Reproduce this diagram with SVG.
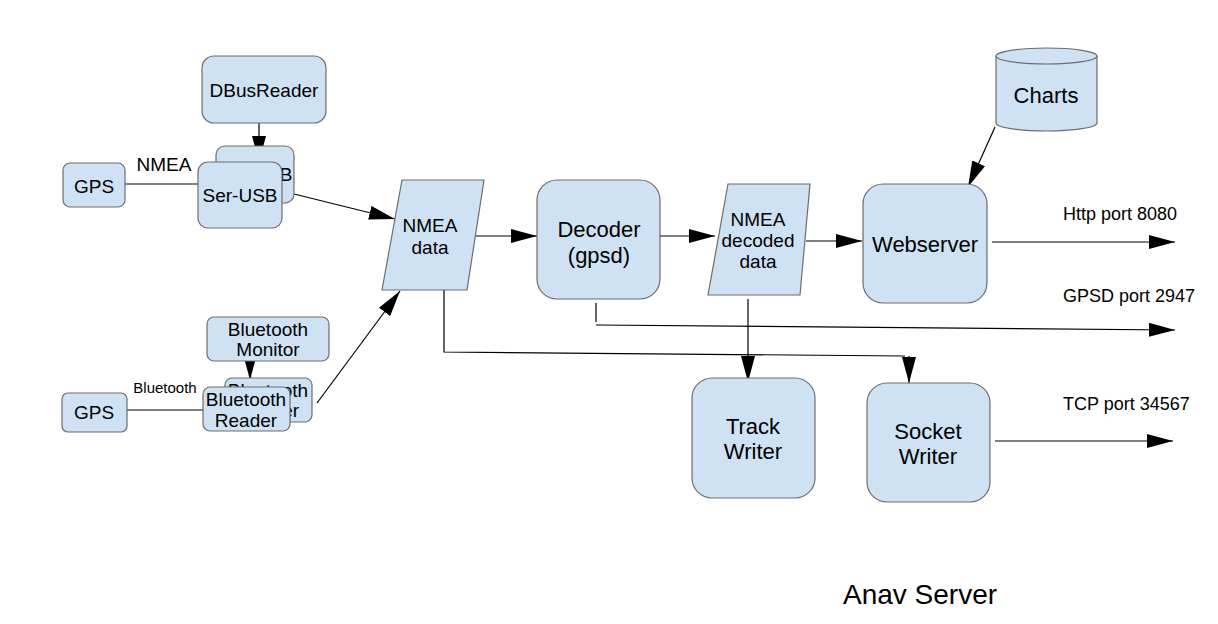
<svg xmlns="http://www.w3.org/2000/svg" width="1218" height="624" viewBox="0 0 1218 624">
<defs>
<marker id="ahl" viewBox="0 0 10 10" refX="10" refY="5" markerWidth="26" markerHeight="14" markerUnits="userSpaceOnUse" orient="auto" preserveAspectRatio="none">
<path d="M0,0 L10,5 L0,10 z" fill="#000"/>
</marker>
<style>
.n{fill:#cfe2f3;stroke:#6d6d6d;stroke-width:1.2}
.t{font-family:"Liberation Sans",Arial,sans-serif;fill:#000;text-anchor:middle}
.s16{font-size:19px}
.s19{font-size:22px}
.s14{font-size:18px;text-anchor:start}
.c{fill:none;stroke:#000;stroke-width:1.2}
</style>
</defs>
<rect width="1218" height="624" fill="#fff"/>
<g id="connectors">
<line class="c" x1="125" y1="184" x2="198" y2="184"/>
<line class="c" x1="259" y1="123" x2="259" y2="162" marker-end="url(#ahl)"/>
<line class="c" x1="294" y1="194" x2="395" y2="219" marker-end="url(#ahl)"/>
<line class="c" x1="127" y1="410" x2="203" y2="410"/>
<line class="c" x1="250" y1="361" x2="250" y2="380" marker-end="url(#ahl)"/>
<line class="c" x1="317" y1="403" x2="400" y2="291" marker-end="url(#ahl)"/>
<line class="c" x1="476" y1="236" x2="537" y2="236" marker-end="url(#ahl)"/>
<line class="c" x1="660" y1="236" x2="715" y2="236" marker-end="url(#ahl)"/>
<line class="c" x1="806" y1="241" x2="862" y2="241" marker-end="url(#ahl)"/>
<line class="c" x1="995" y1="127" x2="968" y2="187" marker-end="url(#ahl)"/>
<line class="c" x1="992" y1="242" x2="1175" y2="242" marker-end="url(#ahl)"/>
<polyline class="c" points="596,303 596,322"/>
<line class="c" x1="596" y1="325" x2="1175" y2="330" marker-end="url(#ahl)"/>
<polyline class="c" points="444,290 444,352 905,356"/>
<line class="c" x1="909" y1="356" x2="909" y2="383" marker-end="url(#ahl)"/>
<line class="c" x1="748" y1="299" x2="748" y2="382" marker-end="url(#ahl)"/>
<line class="c" x1="995" y1="441" x2="1173" y2="441" marker-end="url(#ahl)"/>
</g>
<g id="dbusreader">
<rect class="n" x="202" y="56" width="124" height="67" rx="12"/>
<text class="t s16" x="264" y="97">DBusReader</text>
</g>
<g id="gps1">
<rect class="n" x="63" y="163" width="62" height="44" rx="7"/>
<text class="t s16" x="94" y="193">GPS</text>
</g>
<text class="t s16" x="164" y="171">NMEA</text>
<g id="serusb-back">
<rect class="n" x="216" y="146" width="78" height="57" rx="9"/>
<text class="t s16" x="255" y="181">Ser-USB</text>
</g>
<g id="serusb">
<rect class="n" x="198" y="162" width="84" height="66" rx="10"/>
<text class="t s16" x="240" y="202">Ser-USB</text>
</g>
<g id="btmonitor">
<rect class="n" x="207" y="317" width="122" height="44" rx="7"/>
<text class="t s16" x="268" y="336">Bluetooth</text>
<text class="t s16" x="268" y="356">Monitor</text>
</g>
<g id="gps2">
<rect class="n" x="62" y="393" width="65" height="39" rx="6"/>
<text class="t s16" x="94" y="419">GPS</text>
</g>
<text class="t" style="font-size:15px" x="165" y="393">Bluetooth</text>
<g id="btreader-back">
<rect class="n" x="225" y="378" width="87" height="44" rx="7"/>
<text class="t s16" x="268" y="397">Bluetooth</text>
<text class="t s16" x="268" y="417">Reader</text>
</g>
<g id="btreader">
<rect class="n" x="203" y="387" width="87" height="44" rx="7"/>
<text class="t s16" x="246" y="406">Bluetooth</text>
<text class="t s16" x="246" y="427">Reader</text>
</g>
<g id="nmeadata">
<polygon class="n" points="402,180 484,180 467,290 382,290"/>
<text class="t s16" x="430" y="232">NMEA</text>
<text class="t s16" x="430" y="254">data</text>
</g>
<g id="decoder">
<rect class="n" x="537" y="180" width="123" height="119" rx="20"/>
<text class="t s19" x="599" y="237">Decoder</text>
<text class="t s19" x="599" y="263">(gpsd)</text>
</g>
<g id="nmeadecoded">
<polygon class="n" points="728,184 810,184 800,295 708,295"/>
<text class="t s16" x="758" y="226">NMEA</text>
<text class="t s16" x="758" y="247">decoded</text>
<text class="t s16" x="758" y="268">data</text>
</g>
<g id="webserver">
<rect class="n" x="863" y="184" width="124" height="119" rx="20"/>
<text class="t s19" x="925" y="252">Webserver</text>
</g>
<g id="charts">
<path class="n" d="M996,56 L996,123 A50.5,8 0 0 0 1097,123 L1097,56 A50.5,8 0 0 0 996,56 Z"/>
<path class="n" fill="none" d="M996,56 A50.5,8 0 0 0 1097,56"/>
<text class="t s19" x="1046" y="103">Charts</text>
</g>
<g id="trackwriter">
<rect class="n" x="692" y="378" width="123" height="120" rx="20"/>
<text class="t s19" x="753" y="434">Track</text>
<text class="t s19" x="753" y="459">Writer</text>
</g>
<g id="socketwriter">
<rect class="n" x="867" y="383" width="123" height="119" rx="20"/>
<text class="t s19" x="928" y="439">Socket</text>
<text class="t s19" x="928" y="464">Writer</text>
</g>
<text class="t s14" x="1063" y="220">Http port 8080</text>
<text class="t s14" x="1063" y="302">GPSD port 2947</text>
<text class="t s14" x="1063" y="410">TCP port 34567</text>
<text class="t" style="font-size:28px" x="920" y="604">Anav Server</text>
</svg>
